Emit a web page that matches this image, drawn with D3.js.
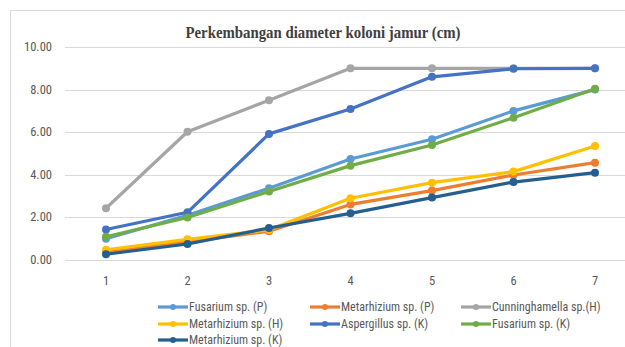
<!DOCTYPE html>
<html><head><meta charset="utf-8">
<script src="https://cdn.jsdelivr.net/npm/d3@7"></script>
<style>body{margin:0;background:#fff}svg{display:block}</style>
</head><body>
<svg id="c" width="625" height="347"></svg>
<script>
const categories = ["1","2","3","4","5","6","7"];
const seriesNames = ["Fusarium sp. (P)","Metarhizium sp. (P)","Cunninghamella sp.(H)","Metarhizium sp. (H)","Aspergillus sp. (K)","Fusarium sp. (K)","Metarhizium sp. (K)"];
const seriesColors = ["#5B9BD5","#ED7D31","#A5A5A5","#FFC000","#4472C4","#70AD47","#255E91"];
const fusariumP = [1.0, 2.1, 3.37, 4.74, 5.67, 7.0, 8.0];
const metarhiziumP = [0.35, 0.85, 1.35, 2.61, 3.26, 3.99, 4.57];
const cunninghamellaH = [2.43, 6.02, 7.5, 9.0, 9.0, 9.0, 9.0];
const metarhiziumH = [0.48, 0.97, 1.42, 2.9, 3.63, 4.15, 5.35];
const aspergillusK = [1.43, 2.24, 5.92, 7.09, 8.6, 8.98, 9.0];
const fusariumK = [1.09, 2.0, 3.22, 4.43, 5.4, 6.68, 8.04];
const metarhiziumK = [0.27, 0.75, 1.5, 2.19, 2.93, 3.66, 4.1];
const yTicks = [0, 2, 4, 6, 8, 10];
const title = "Perkembangan diameter koloni jamur (cm)";

const allSeries = [fusariumP, metarhiziumP, cunninghamellaH, metarhiziumH, aspergillusK, fusariumK, metarhiziumK];

const svg = d3.select("#c");
svg.append("rect").attr("x",10.5).attr("y",10.5).attr("width",700).attr("height",400)
  .attr("fill","#fff").attr("stroke","#D9D9D9").attr("stroke-width",1);

const x = d3.scalePoint().domain(categories).range([106, 595]);
const y = d3.scaleLinear().domain([0, 10]).range([260, 47]);

svg.append("g").selectAll("line").data(yTicks).join("line")
  .attr("x1",65).attr("x2",640)
  .attr("y1",d=>Math.round(y(d))+0.5).attr("y2",d=>Math.round(y(d))+0.5)
  .attr("stroke","#D9D9D9").attr("stroke-width",1);

svg.append("g").selectAll("text").data(yTicks).join("text")
  .attr("x",52).attr("y",d=>y(d)+4).attr("text-anchor","end")
  .attr("font-family","Liberation Sans Narrow, Roboto Condensed, Arial, sans-serif")
  .attr("font-size",12.5).attr("fill","#595959")
  .text(d=>d3.format(".2f")(d));

svg.append("g").selectAll("text").data(categories).join("text")
  .attr("x",d=>x(d)).attr("y",285).attr("text-anchor","middle")
  .attr("font-family","Liberation Sans Narrow, Roboto Condensed, Arial, sans-serif")
  .attr("font-size",12.5).attr("fill","#595959")
  .text(d=>d);

svg.append("text").attr("x",323).attr("y",38).attr("text-anchor","middle")
  .attr("font-family","Liberation Serif, Times New Roman, serif")
  .attr("font-weight","bold").attr("font-size",17.5).attr("fill","#404040")
  .attr("textLength",275).attr("lengthAdjust","spacingAndGlyphs")
  .text(title);

const line = d3.line().x((d,i)=>x(categories[i])).y(d=>y(d));
allSeries.forEach((s,k)=>{
  const g = svg.append("g");
  g.append("path").attr("d",line(s)).attr("fill","none")
    .attr("stroke",seriesColors[k]).attr("stroke-width",3.2)
    .attr("stroke-linejoin","round").attr("stroke-linecap","round");
  g.selectAll("circle").data(s).join("circle")
    .attr("cx",(d,i)=>x(categories[i])).attr("cy",d=>y(d)).attr("r",4)
    .attr("fill",seriesColors[k]);
});

const legX = [158, 310, 461];
const legY = [307, 324, 340];
seriesNames.forEach((n,k)=>{
  const cx = legX[k%3], cy = legY[Math.floor(k/3)];
  const g = svg.append("g");
  g.append("line").attr("x1",cx).attr("x2",cx+30).attr("y1",cy).attr("y2",cy)
    .attr("stroke",seriesColors[k]).attr("stroke-width",3.2);
  g.append("circle").attr("cx",cx+15).attr("cy",cy).attr("r",3).attr("fill",seriesColors[k]);
  g.append("text").attr("x",cx+31).attr("y",cy+4)
    .attr("font-family","Liberation Sans Narrow, Roboto Condensed, Arial, sans-serif")
    .attr("font-size",12).attr("fill","#595959").text(n);
});
</script>
</body></html>
